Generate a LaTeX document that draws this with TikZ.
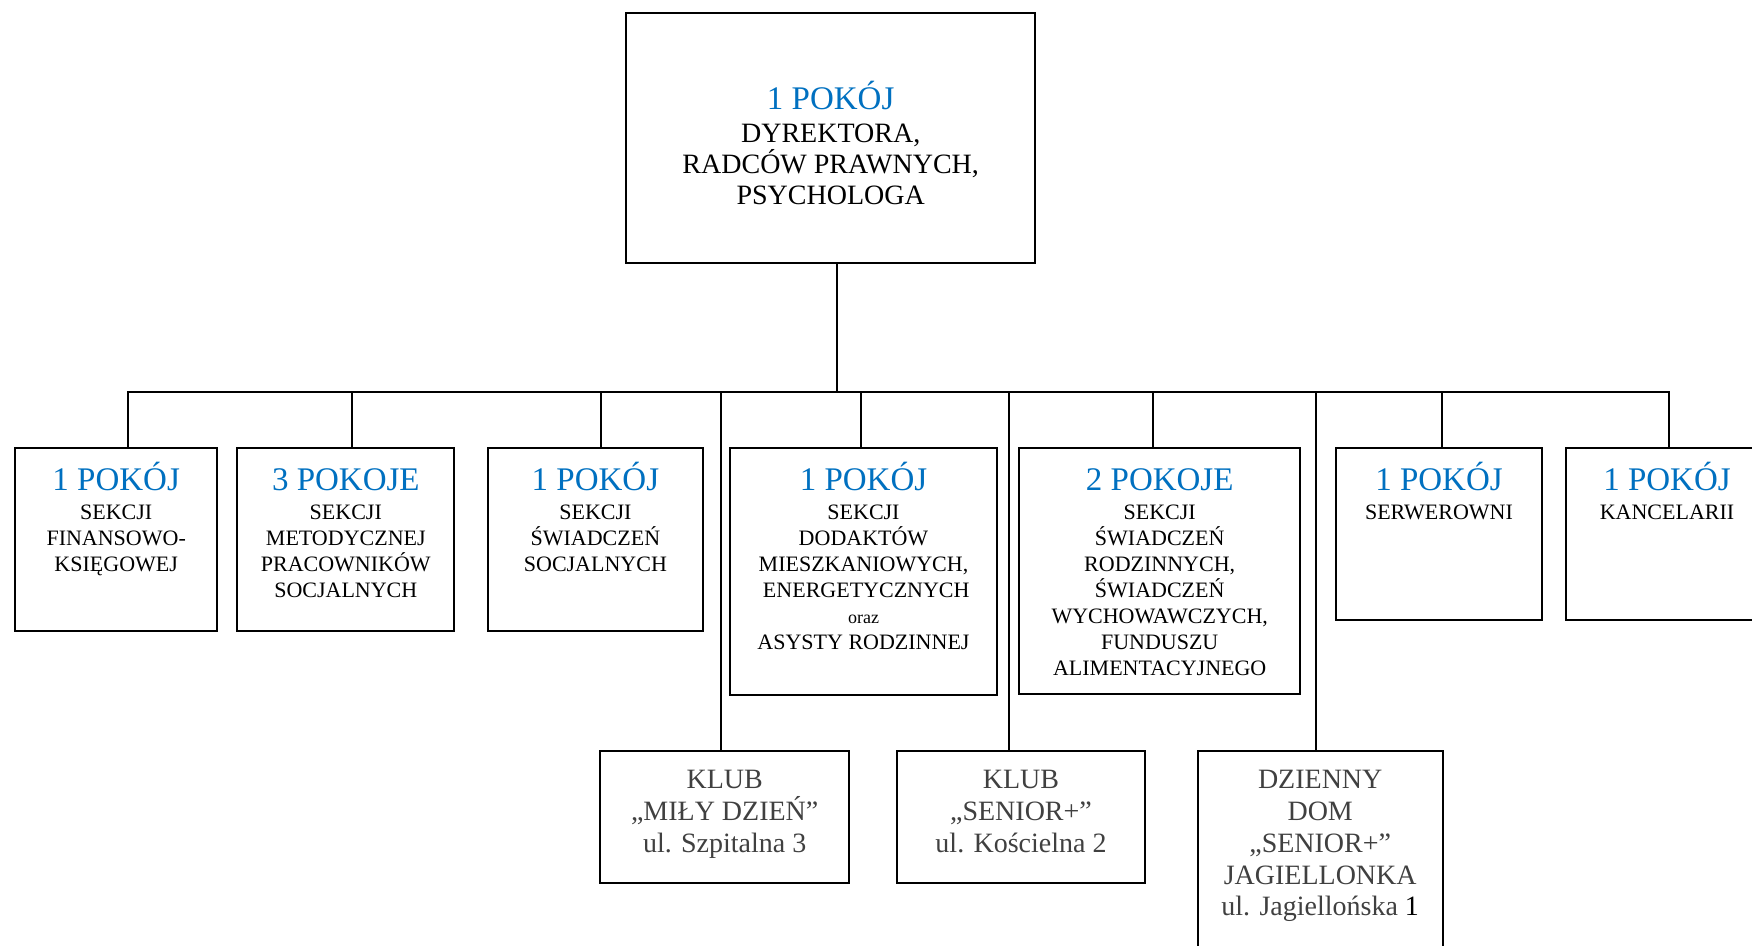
\documentclass[tikz,border=0pt]{standalone}
\usepackage{fontspec}
\setmainfont{Liberation Serif}
\usetikzlibrary{fit}
\definecolor{roomblue}{RGB}{0,112,192}
\definecolor{txtgray}{RGB}{64,64,64}
\tikzset{
  box/.style={draw=black, line width=1pt, rectangle, inner sep=0pt},
  link/.style={draw=black, line width=1pt},
  room/.style={text=roomblue, font=\fontsize{16.5}{18}\selectfont, anchor=base, inner sep=0pt},
  desc/.style={text=black, font=\fontsize{11}{13}\selectfont, align=center, anchor=north, inner sep=0pt},
  head/.style={text=black, font=\fontsize{14}{15.6}\selectfont, align=center, anchor=north, inner sep=0pt},
  club/.style={text=txtgray, font=\fontsize{14}{15.9}\selectfont, align=center, anchor=north, inner sep=0pt},
}
\newcommand{\fsmall}{\rule{0pt}{11pt}}
\newcommand{\fbig}{\rule{0pt}{14pt}}
\begin{document}
\begin{tikzpicture}[x=0.5pt,y=-0.5pt]
\useasboundingbox (0,0) rectangle (1752,946);
% boxes
\node[box, fit={(626,13) (1035.3,263.3)}] (main) {};
\node[box, fit={(15,448.3) (217.3,630.7)}] (b1) {};
\node[box, fit={(237.3,448.3) (454.3,630.7)}] (b2) {};
\node[box, fit={(488,448.3) (702.7,630.7)}] (b3) {};
\node[box, fit={(730.4,448.3) (996.7,694.5)}] (b4) {};
\node[box, fit={(1019.3,448.3) (1300,694.3)}] (b5) {};
\node[box, fit={(1335.7,448.3) (1542.3,620)}] (b6) {};
\node[box, fit={(1566,448.3) (1768,620)}] (b7) {};
\node[box, fit={(600,751) (849.3,883.3)}] (k1) {};
\node[box, fit={(896.7,751) (1145.3,883.3)}] (k2) {};
\node[box, fit={(1197.7,751) (1442.7,975)}] (dd) {};
% connectors
\coordinate (bus) at (836.7,392.3);
\coordinate (t1) at (127.7,392.3);
\coordinate (t2) at (351.7,392.3);
\coordinate (t3) at (600.7,392.3);
\coordinate (t4) at (861,392.3);
\coordinate (t5) at (1153.3,392.3);
\coordinate (t6) at (1442.3,392.3);
\coordinate (t7) at (1668.7,392.3);
\coordinate (tk1) at (720.7,392.3);
\coordinate (tk2) at (1009.3,392.3);
\coordinate (tdd) at (1316,392.3);
\draw[link] (main.south -| bus) -- (bus);
\draw[link] (t1 |- b1.north) -- (t1) -- (t7) -- (t7 |- b7.north);
\foreach \n in {2,...,6} {\draw[link] (t\n) -- (t\n |- b\n.north);}
\draw[link] (tk1) -- (tk1 |- k1.north);
\draw[link] (tk2) -- (tk2 |- k2.north);
\draw[link] (tdd) -- (tdd |- dd.north);
% texts
\node[room] (mainR) at (830.7,109.3) {1 POKÓJ};
\node[head] (mainT) at (830.7,113.7) {\fbig DYREKTORA,\\RADCÓW PRAWNYCH,\\PSYCHOLOGA};
\node[room] (r1) at (116.2,491) {1 POKÓJ};
\node[desc] (d1) at (116.2,497) {\fsmall SEKCJI\\FINANSOWO-\\KSIĘGOWEJ};
\node[room] (r2) at (345.8,491) {3 POKOJE};
\node[desc] (d2) at (345.8,497) {\fsmall SEKCJI\\METODYCZNEJ\\PRACOWNIKÓW\\SOCJALNYCH};
\node[room] (r3) at (595.4,491) {1 POKÓJ};
\node[desc] (d3) at (595.4,497) {\fsmall SEKCJI\\ŚWIADCZEŃ\\SOCJALNYCH};
\node[room] (r4) at (863.5,491) {1 POKÓJ};
\node[desc] (d4) at (863.5,497) {\fsmall SEKCJI\\DODAKTÓW\\MIESZKANIOWYCH,\\\ ENERGETYCZNYCH\\{\fontsize{9}{13}\selectfont oraz}\\ASYSTY RODZINNEJ};
\node[room] (r5) at (1159.7,491) {2 POKOJE};
\node[desc] (d5) at (1159.7,497) {\fsmall SEKCJI\\ŚWIADCZEŃ\\RODZINNYCH,\\ŚWIADCZEŃ\\WYCHOWAWCZYCH,\\FUNDUSZU\\ALIMENTACYJNEGO};
\node[room] (r6) at (1439,491) {1 POKÓJ};
\node[desc] (d6) at (1439,497) {\fsmall SERWEROWNI};
\node[room] (r7) at (1667,491) {1 POKÓJ};
\node[desc] (d7) at (1667,497) {\fsmall KANCELARII};
\node[club] (c1) at (724.7,760.3) {\fbig KLUB\\„MIŁY DZIEŃ”\\ul. Szpitalna 3};
\node[club] (c2) at (1021,760.3) {\fbig KLUB\\„SENIOR+”\\ul. Kościelna 2};
\node[club] (c3) at (1320.2,760.3) {\fbig DZIENNY\\DOM\\„SENIOR+”\\JAGIELLONKA\\ul. Jagiellońska \textcolor{black}{1}};
\end{tikzpicture}
\end{document}
